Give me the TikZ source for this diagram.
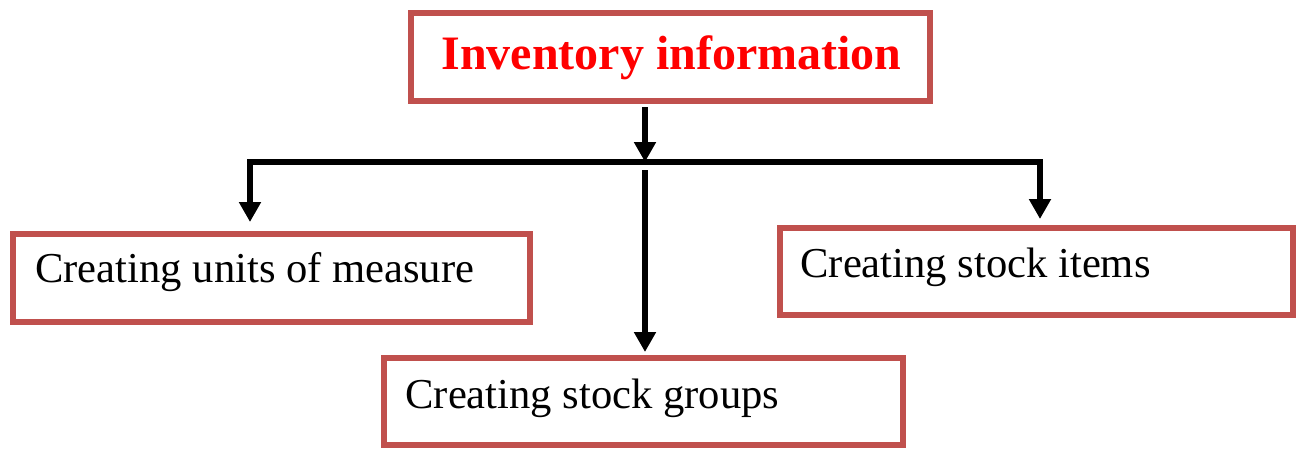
\documentclass[tikz,border=0pt]{standalone}
\usepackage{fontspec}
\setmainfont{Liberation Serif}
\usetikzlibrary{arrows.meta}
\definecolor{boxred}{HTML}{C0504D}
\definecolor{titlered}{HTML}{FF0000}
\begin{document}
\begin{tikzpicture}[x=0.5pt,y=-0.5pt,
  box/.style={draw=boxred,line width=3pt,fill=white,inner sep=0pt},
  label/.style={inner sep=0pt,anchor=base west,font=\fontsize{21.3}{25}\selectfont},
  conn/.style={line width=2.7pt},
  arr/.style={conn,-{Triangle[length=10pt,width=10.5pt]}}]
\useasboundingbox (0,0) rectangle (1298,451);

% boxes
\node[box,minimum width=259.5pt,minimum height=44pt] (top) at (670.5,57) {};
\node[box,minimum width=258.5pt,minimum height=44pt] (units) at (271,278) {};
\node[box,minimum width=256.5pt,minimum height=43.5pt] (items) at (1036.5,271.5) {};
\node[box,minimum width=259.5pt,minimum height=43.5pt] (groups) at (643,401.5) {};

% texts
\node[inner sep=0pt,anchor=base,text=titlered,font=\fontsize{24}{28}\selectfont\bfseries] (toptxt) at (671.5,69) {Inventory information};
\node[label] (unitstxt) at (35,282) {Creating units of measure};
\node[label] (itemstxt) at (800,277) {Creating stock items};
\node[label] (groupstxt) at (405,408) {Creating stock groups};

% branching line
\coordinate (hl) at (250,162);
\coordinate (hm) at (645,162);
\coordinate (hr) at (1040,162);
\draw[conn,line cap=rect] (hl) -- (hr);
\draw[arr,shorten <=1.5pt] (hm |- top.south) -- (hm);
\draw[arr,shorten >=4.5pt] (hl) -- (hl |- units.north);
\draw[arr,shorten >=3pt] (hr) -- (hr |- items.north);
\draw[arr,shorten <=4pt,shorten >=1.5pt] (hm) -- (hm |- groups.north);
\end{tikzpicture}
\end{document}
